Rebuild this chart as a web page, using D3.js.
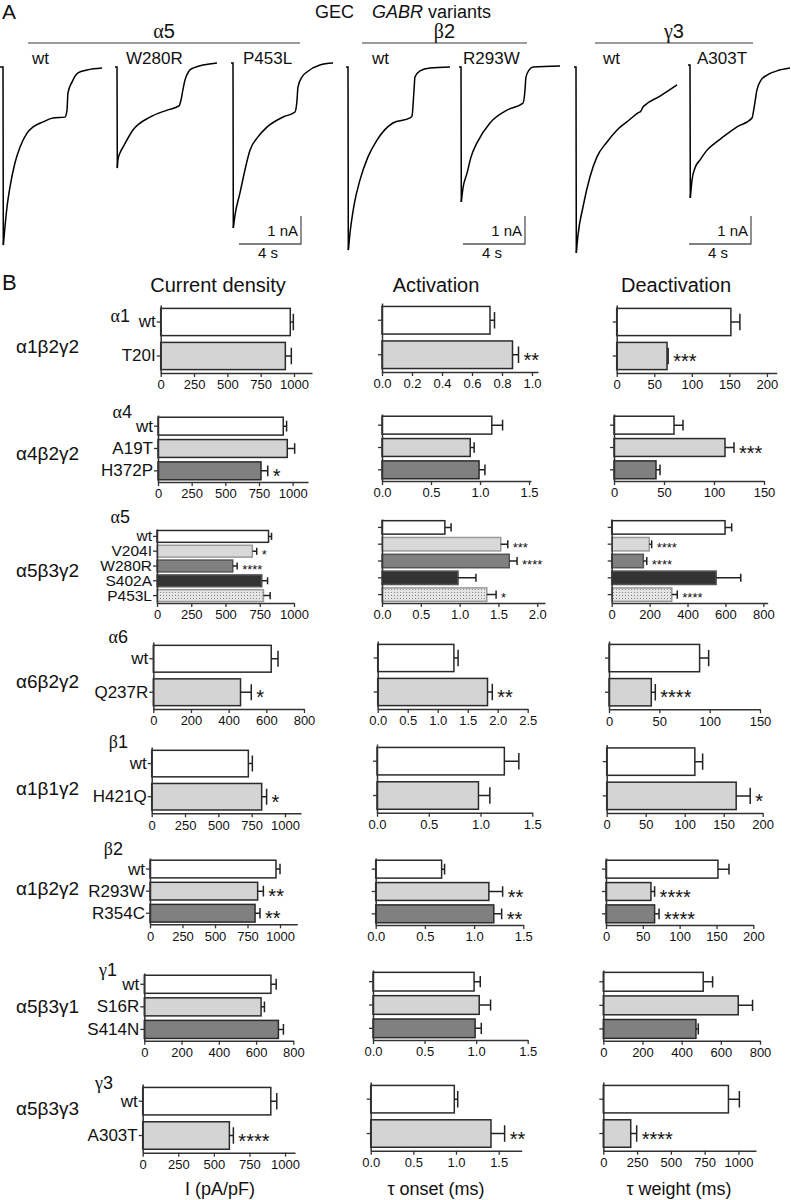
<!DOCTYPE html>
<html>
<head>
<meta charset="utf-8">
<script src="https://cdnjs.cloudflare.com/ajax/libs/d3/7.8.5/d3.min.js"></script>
<style>
  body { margin: 0; background: #fff; }
  svg text { font-family: "Liberation Sans", Arial, sans-serif; fill: #111; }
</style>
</head>
<body>
<svg id="fig" width="791" height="1200"></svg>
<script>
// ---- panel A: GEC traces, [time (s), current (nA)] ----
var traceLabels = ["wt", "W280R", "P453L", "wt", "R293W", "wt", "A303T"];
var traceA5wt = [[-0.19,0],[0,0],[0.02,-6.36],[0.26,-5.0],[0.45,-4.29],[0.77,-3.43],[1.1,-2.86],[1.55,-2.36],[1.94,-2.14],[2.58,-1.96],[3.23,-1.82],[4.0,-1.79],[4.13,-1.54],[4.19,-0.93],[4.45,-0.54],[4.84,-0.21],[5.42,-0.11],[6.39,-0.04]];
var traceW280R = [[-0.13,0],[0,0],[0.02,-3.61],[0.06,-3.32],[0.19,-3.07],[0.39,-2.86],[1.03,-2.25],[2.13,-1.79],[3.23,-1.54],[4.0,-1.39],[4.13,-1.18],[4.26,-0.79],[4.39,-0.46],[4.65,-0.14],[4.9,-0.04],[6.45,0.14]];
var traceP453L = [[-0.13,0],[0,0],[0.02,-5.89],[0.13,-5.43],[0.45,-4.64],[0.77,-3.82],[1.1,-3.11],[1.61,-2.64],[2.19,-2.29],[3.23,-1.93],[4.0,-1.75],[4.13,-1.32],[4.19,-0.86],[4.45,-0.5],[4.77,-0.32],[5.61,-0.07],[6.45,0]];
var traceB2wt = [[-0.13,0],[0,0],[0.02,-6.54],[0.13,-5.93],[0.39,-4.93],[0.77,-4.04],[1.29,-3.21],[1.87,-2.61],[2.9,-2.0],[4.0,-1.82],[4.13,-1.75],[4.26,-0.82],[4.32,-0.36],[4.65,-0.14],[5.29,-0.04],[6.58,0]];
var traceR293W = [[-0.13,0],[0,0],[0.02,-4.82],[0.13,-4.32],[0.39,-3.79],[0.65,-3.21],[1.03,-2.71],[1.87,-2.0],[2.97,-1.54],[4.0,-1.29],[4.13,-0.82],[4.19,-0.36],[4.39,-0.11],[4.65,0],[6.39,0.04]];
var traceG3wt = [[-0.13,0],[0,0],[0.02,-6.64],[0.13,-6.0],[0.45,-5.0],[0.9,-3.93],[1.35,-3.21],[2.0,-2.68],[2.65,-2.25],[3.35,-1.93],[4.0,-1.64],[4.19,-1.57],[4.32,-1.43],[4.45,-1.36],[5.42,-1.04],[6.52,-0.64]];
var traceA303T = [[-0.13,0],[0,0],[0.02,-4.75],[0.13,-4.11],[0.32,-3.68],[0.65,-3.39],[1.1,-3.04],[1.61,-2.79],[2.13,-2.57],[3.03,-2.21],[4.0,-1.89],[4.13,-1.54],[4.32,-0.89],[4.58,-0.54],[4.97,-0.36],[5.61,-0.21],[6.45,-0.11]];
var traceGroups = ["α5", "β2", "γ3"];
var scaleBarTime = 4;   // s
var scaleBarCurrent = 1; // nA

// ---- panel B: bar data ----
var receptors = ["α1β2γ2", "α4β2γ2", "α5β3γ2", "α6β2γ2", "α1β1γ2", "α1β2γ2", "α5β3γ1", "α5β3γ3"];
var subunits = ["α1", "α4", "α5", "α6", "β1", "β2", "γ1", "γ3"];
var variants = [["wt","T20I"], ["wt","A19T","H372P"], ["wt","V204I","W280R","S402A","P453L"], ["wt","Q237R"],
                ["wt","H421Q"], ["wt","R293W","R354C"], ["wt","S16R","S414N"], ["wt","A303T"]];

var densityMean = [[972,935], [930,960,765], [814,696,553,765,777], [626,463], [725,825], [969,828,808], [680,627,720], [900,609]];
var densitySem  = [[23,45], [25,55,50], [22,32,32,42,49], [36,57], [30,37], [31,44,38], [28,18,27], [42,28]];
var densitySig  = [["",""], ["","","*"], ["","*","****","",""], ["","*"], ["","*"], ["","**","**"], ["","",""], ["","****"]];

var onsetMean = [[0.72,0.87], [1.12,0.90,0.99], [0.81,1.53,1.64,0.98,1.35], [1.27,1.83], [1.23,0.98], [0.67,1.15,1.20], [0.98,1.03,0.99], [0.98,1.41]];
var onsetSem  = [[0.03,0.04], [0.11,0.04,0.06], [0.08,0.09,0.10,0.23,0.12], [0.07,0.08], [0.14,0.11], [0.03,0.14,0.08], [0.06,0.11,0.06], [0.04,0.16]];
var onsetSig  = [["","**"], ["","",""], ["","***","****","","*"], ["","**"], ["",""], ["","**","**"], ["","",""], ["","**"]];

var weightMean = [[152,67], [60,111,42], [598,198,167,551,317], [90,42], [113,166], [152,61,66], [510,689,473], [926,203]];
var weightSem  = [[12,1.5], [9,9,4], [35,13,18,130,29], [9,4], [10,18], [15,5,6], [48,73,12], [81,44]];
var weightSig  = [["","***"], ["","***",""], ["","****","****","","****"], ["","****"], ["","*"], ["","****","****"], ["","",""], ["","****"]];

var densityMax = [1135, 1114, 1000, 800, 1120, 1133, 800, 1070];
var onsetMax   = [1.04, 1.52, 2.1, 2.5, 1.5, 1.5, 1.5, 1.77];
var weightMax  = [213, 150, 823, 150, 200, 200, 800, 1130];

var densityTicks = [[0,250,500,750,1000], [0,250,500,750,1000], [0,250,500,750,1000], [0,200,400,600,800],
                    [0,250,500,750,1000], [0,250,500,750,1000], [0,200,400,600,800], [0,250,500,750,1000]];
var onsetTicks = [[0,0.2,0.4,0.6,0.8,1.0], [0,0.5,1.0,1.5], [0,0.5,1.0,1.5,2.0], [0,0.5,1.0,1.5,2.0,2.5],
                  [0,0.5,1.0,1.5], [0,0.5,1.0,1.5], [0,0.5,1.0,1.5], [0,0.5,1.0,1.5]];
var weightTicks = [[0,50,100,150,200], [0,50,100,150], [0,200,400,600,800], [0,50,100,150],
                   [0,50,100,150,200], [0,50,100,150,200], [0,200,400,600,800], [0,250,500,750,1000]];

var columnTitles = ["Current density", "Activation", "Deactivation"];
var axisTitles = ["I (pA/pF)", "τ onset (ms)", "τ weight (ms)"];

// ---- layout (pixels) ----
// [x of 0, x of axis end, top, axis y] for density / onset / weight
var boxes = [
  [[160.7,312,305,373],   [382,538,303,372],     [616.7,776.7,305,373]],
  [[158,308,415,482],     [382,531,414,481],     [614,764,414,481]],
  [[157,294,529,603],     [382,545,519,603],     [611.7,767.7,519,603]],
  [[153.3,304,642,709],   [377.7,527.7,641,709], [609,760,641,709.3]],
  [[151.7,301,747,813.3], [377,532.3,744,812.7], [606.7,762.7,744.5,813]],
  [[150,297.3,858,924.3], [375.7,523.3,858,925], [606,753.3,858,925]],
  [[144.3,293.3,973,1040.7], [373,527.7,970,1040], [603.3,760,970,1040.7]],
  [[142.7,295,1084,1152.7],  [370.7,521.7,1082,1150.7], [603.3,756,1082,1150.7]]
];
var receptorBaseline = [353, 460, 577, 688, 795, 895, 1013, 1115];
var subunitPos = [[130,322],[132,418],[130,523],[128,643],[128,748],[123,855],[117,976],[113,1089]];
var traceOrigin = [[3,67],[117,67],[233,63],[348,67],[461,67],[576,67],[690,65]];
var traceLabelX = [32, 126, 243, 372, 463, 603, 697];

var svg = d3.select("#fig");
var defs = svg.append("defs");
var pat = defs.append("pattern").attr("id", "dots").attr("patternUnits", "userSpaceOnUse")
  .attr("width", 3).attr("height", 3);
pat.append("rect").attr("width", 3).attr("height", 3).attr("fill", "#e4e4e4");
pat.append("rect").attr("x", 1).attr("y", 1).attr("width", 1).attr("height", 1).attr("fill", "#8a8a8a");

var fills = ["#ffffff", "#d4d4d4", "#808080"];
var strokes = ["#2a2a2a", "#2a2a2a", "#2a2a2a"];
var a5Fills = ["#ffffff", "#d9d9d9", "#808080", "#333333", "url(#dots)"];
var a5Strokes = ["#2a2a2a", "#9a9a9a", "#555555", "#555555", "#9a9a9a"];

// ---------------- panel A ----------------
svg.append("text").attr("x", 2).attr("y", 19).attr("font-size", 21).text("A");
var head = svg.append("text").attr("x", 315).attr("y", 18).attr("font-size", 18);
head.append("tspan").text("GEC");
head.append("tspan").attr("x", 372).attr("font-style", "italic").text("GABR");
head.append("tspan").text(" variants");

var groupLines = [[28,300],[362,527],[595,753]];
traceGroups.forEach(function (g, i) {
  svg.append("line").attr("x1", groupLines[i][0]).attr("x2", groupLines[i][1])
    .attr("y1", 43).attr("y2", 43).attr("stroke", "#7a7a7a").attr("stroke-width", 1.5);
  var t = svg.append("text").attr("x", (groupLines[i][0] + groupLines[i][1]) / 2).attr("y", 38)
    .attr("text-anchor", "middle").attr("font-size", 20);
  t.append("tspan").attr("font-family", "Liberation Serif").style("font-family", "Liberation Serif").text(g.charAt(0));
  t.append("tspan").text(g.slice(1));
});

var tx = d3.scaleLinear().domain([0, 1]).range([0, 15.5]);
var ty = d3.scaleLinear().domain([0, -1]).range([0, 28]);
var spike = d3.line().x(function (d) { return tx(d[0]); }).y(function (d) { return ty(d[1]); });
var decay = d3.line().curve(d3.curveMonotoneX).x(function (d) { return tx(d[0]); }).y(function (d) { return ty(d[1]); });

var traces = [traceA5wt, traceW280R, traceP453L, traceB2wt, traceR293W, traceG3wt, traceA303T];
traces.forEach(function (pts, i) {
  var g = svg.append("g").attr("transform", "translate(" + traceOrigin[i][0] + "," + traceOrigin[i][1] + ")");
  g.append("path").attr("d", spike(pts.slice(0, 3))).attr("fill", "none").attr("stroke", "#000").attr("stroke-width", 1.5);
  g.append("path").attr("d", decay(pts.slice(2))).attr("fill", "none").attr("stroke", "#000").attr("stroke-width", 1.5);
  svg.append("text").attr("x", traceLabelX[i]).attr("y", 64).attr("font-size", 17).text(traceLabels[i]);
});

// scale bars next to the last trace of each group
[[301,244],[525,244],[751,244]].forEach(function (p) {
  var w = tx(scaleBarTime), h = ty(-scaleBarCurrent);
  svg.append("path").attr("d", "M" + (p[0] - w) + "," + p[1] + "H" + p[0] + "V" + (p[1] - h))
    .attr("fill", "none").attr("stroke", "#555").attr("stroke-width", 1.3);
  svg.append("text").attr("x", p[0] - 3).attr("y", p[1] - 8).attr("text-anchor", "end").attr("font-size", 15)
    .text(scaleBarCurrent + " nA");
  svg.append("text").attr("x", p[0] - w + 19).attr("y", p[1] + 14).attr("font-size", 15).text(scaleBarTime + " s");
});

// ---------------- panel B ----------------
svg.append("text").attr("x", 2).attr("y", 290).attr("font-size", 22).text("B");
var titleX = [218, 436, 676];
var axTitleX = [220, 436, 679];
columnTitles.forEach(function (t, i) {
  svg.append("text").attr("x", titleX[i]).attr("y", 292).attr("text-anchor", "middle").attr("font-size", 20).text(t);
  svg.append("text").attr("x", axTitleX[i]).attr("y", 1195).attr("text-anchor", "middle").attr("font-size", 18).text(axisTitles[i]);
});

function styleAxis(sel, fs) {
  sel.attr("font-family", "Liberation Sans").attr("font-size", fs);
  sel.select(".domain").attr("stroke", "#333").attr("stroke-width", 1.5);
  sel.selectAll(".tick line").attr("stroke", "#333").attr("stroke-width", 1.3);
  sel.selectAll(".tick text").attr("fill", "#222");
}

function drawPanel(r, c, mean, sem, sig, maxV, ticks, fmt) {
  var box = boxes[r][c];
  var names = variants[r];
  var x = d3.scaleLinear().domain([0, maxV]).range([box[0], box[1]]);
  var y = d3.scaleBand().domain(names).range([box[2], box[3]]).paddingInner(0.2).paddingOuter(0.1);
  var small = names.length > 3;
  var g = svg.append("g");
  var bw = y.bandwidth();

  g.selectAll("rect.bar").data(names).enter().append("rect")
    .attr("class", "bar")
    .attr("x", x(0))
    .attr("y", function (d) { return y(d); })
    .attr("width", function (d, i) { return x(mean[i]) - x(0); })
    .attr("height", bw)
    .attr("fill", function (d, i) { return small ? a5Fills[i] : fills[i]; })
    .attr("stroke", function (d, i) { return small ? a5Strokes[i] : strokes[i]; })
    .attr("stroke-width", 1.5);

  // error bars (mean + SEM)
  g.selectAll("path.err").data(names).enter().append("path")
    .attr("class", "err")
    .attr("d", function (d, i) {
      var cy = y(d) + bw / 2, xe = x(mean[i] + sem[i]), ch = bw * 0.3;
      return "M" + x(mean[i]) + "," + cy + "H" + xe + "M" + xe + "," + (cy - ch) + "V" + (cy + ch);
    })
    .attr("fill", "none").attr("stroke", "#222").attr("stroke-width", 1.5);

  // significance
  var fs = small ? 13 : 20;
  g.selectAll("text.sig").data(names).enter().append("text")
    .attr("class", "sig")
    .attr("x", function (d, i) { return x(mean[i] + sem[i]) + 5; })
    .attr("y", function (d) { return y(d) + bw / 2 + fs * 0.6; })
    .attr("font-size", fs)
    .text(function (d, i) { return sig[i]; });

  var ax = g.append("g").attr("transform", "translate(0," + box[3] + ")")
    .call(d3.axisBottom(x).tickValues(ticks).tickFormat(d3.format(fmt)).tickSize(4).tickSizeOuter(0));
  styleAxis(ax, 13);

  var ay = g.append("g").attr("transform", "translate(" + box[0] + ",0)")
    .call(d3.axisLeft(y).tickSize(4).tickSizeOuter(0).tickPadding(1)
      .tickFormat(c === 0 ? null : function () { return ""; }));
  styleAxis(ay, small ? 15.5 : 17);
  ay.selectAll(".tick text").attr("fill", "#111");
}

receptors.forEach(function (rec, r) {
  svg.append("text").attr("x", 16).attr("y", receptorBaseline[r]).attr("font-size", 19).text(rec);
  var s = svg.append("text").attr("x", subunitPos[r][0]).attr("y", subunitPos[r][1])
    .attr("text-anchor", "end").attr("font-size", 18);
  s.append("tspan").style("font-family", "Liberation Serif").text(subunits[r].charAt(0));
  s.append("tspan").text(subunits[r].slice(1));

  drawPanel(r, 0, densityMean[r], densitySem[r], densitySig[r], densityMax[r], densityTicks[r], "d");
  drawPanel(r, 1, onsetMean[r], onsetSem[r], onsetSig[r], onsetMax[r], onsetTicks[r], ".1f");
  drawPanel(r, 2, weightMean[r], weightSem[r], weightSig[r], weightMax[r], weightTicks[r], "d");
});
</script>
</body>
</html>
